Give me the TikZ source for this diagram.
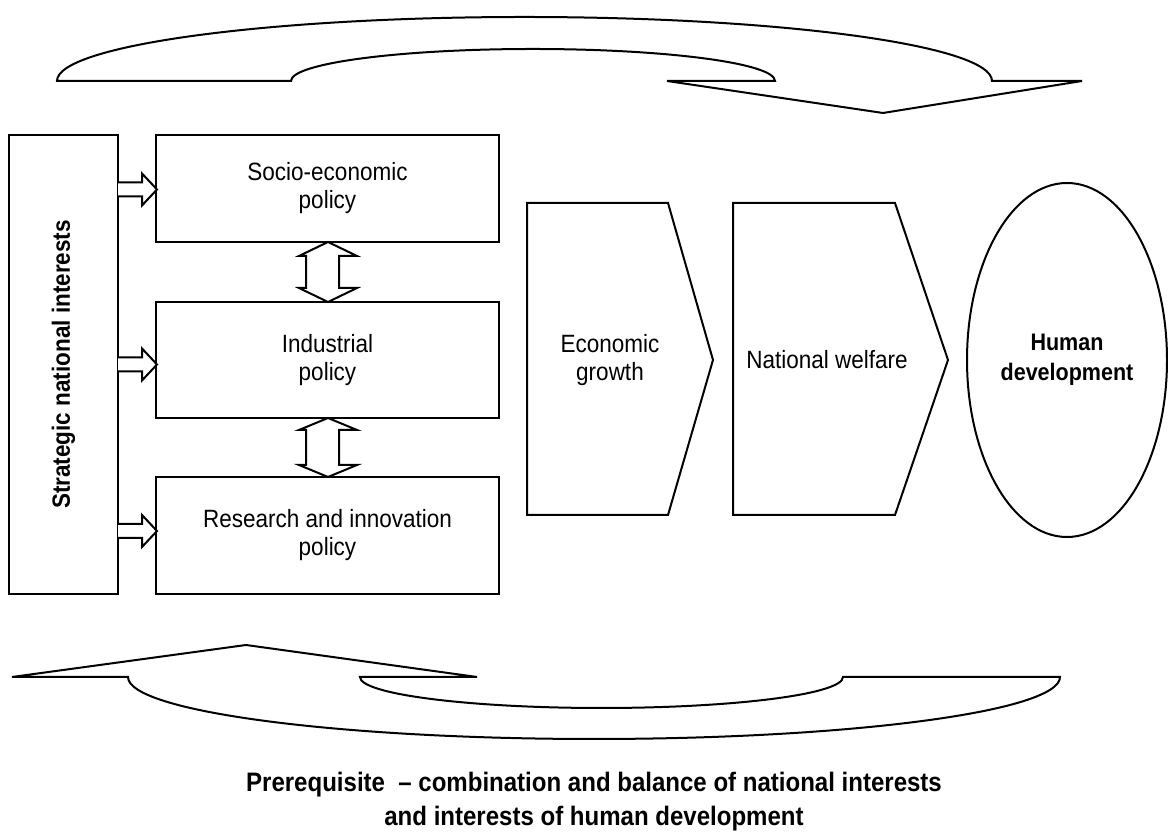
\documentclass[tikz,border=0pt]{standalone}
\usepackage{fontspec}
\setmainfont[FakeStretch=0.9]{Liberation Sans}
\usetikzlibrary{shapes.geometric}
\tikzset{
  shapeline/.style={draw=black, line width=2pt, line join=miter, fill=white},
  policybox/.style={draw=black, line width=2pt, rectangle, inner sep=0pt, minimum width=343pt, align=center, font=\fontsize{25}{28}\selectfont},
  plaintext/.style={align=center, inner sep=0pt, font=\fontsize{25}{28}\selectfont}
}
\begin{document}
\begin{tikzpicture}[x=1pt,y=1pt]
\useasboundingbox[fill=white] (0,0) rectangle (1168,834);
% top curved arrow
\draw[shapeline] (57,753) arc[start angle=180,end angle=0,x radius=467.5pt,y radius=64pt]
  -- (1082,753) -- (883,721) -- (667,753) -- (775,753)
  arc[start angle=0,end angle=180,x radius=242pt,y radius=32pt] -- cycle;
% bottom curved arrow
\draw[shapeline] (128,157) arc[start angle=180,end angle=360,x radius=466pt,y radius=62pt]
  -- (843,157) arc[start angle=360,end angle=180,x radius=241.5pt,y radius=31pt]
  -- (477,157) -- (246,189) -- (12,157) -- cycle;
% left box
\node[draw=black, line width=2pt, rectangle, inner sep=0pt, rotate=90,
  minimum width=459pt, minimum height=109pt, font=\fontsize{25}{28}\selectfont\bfseries]
  (sni) at (63.5,469.5) {Strategic national interests};
% policy boxes
\node[policybox, minimum height=107pt] (socio) at (327.5,645.5) {Socio-economic\\policy};
\node[policybox, minimum height=116pt] (ind) at (327.5,474) {Industrial\\policy};
\node[policybox, minimum height=117pt] (res) at (327.5,298.5) {Research and innovation\\policy};
% small block arrows
\foreach \c in {644.5,469.5,303}{
  \draw[shapeline] (118,\c+7) -- (142,\c+7) -- (142,\c+16) -- (157,\c) -- (142,\c-16) -- (142,\c-7) -- (118,\c-7);
}
% double block arrows
\draw[shapeline] (328,592) -- (357,578) -- (339,578) -- (339,546) -- (357,546) -- (328,532)
  -- (299,546) -- (306,546) -- (306,578) -- (299,578) -- cycle;
\draw[shapeline] (328,416) -- (357,404) -- (339,404) -- (339,369) -- (357,369) -- (328,357)
  -- (299,369) -- (306,369) -- (306,404) -- (299,404) -- cycle;
% chevrons
\draw[shapeline] (527,631) -- (668,631) -- (713,474) -- (668,319) -- (527,319) -- cycle;
\draw[shapeline] (733,631) -- (895,631) -- (948,474) -- (895,319) -- (733,319) -- cycle;
\node[plaintext] (eg) at (610,474) {Economic\\growth};
\node[plaintext] (nw) at (827,474) {National welfare};
% ellipse
\node[draw=black, line width=2pt, ellipse, inner sep=0pt, minimum width=200pt, minimum height=354pt,
  align=center, font=\fontsize{23.9}{30}\selectfont\bfseries] (hd) at (1067,474) {Human\\development};
% bottom caption
\node[align=center, inner sep=0pt, font=\fontsize{26.7}{34}\selectfont\bfseries] (cap) at (594,32)
  {Prerequisite\ \ -- combination and balance of national interests\\and interests of human development};
\end{tikzpicture}
\end{document}
